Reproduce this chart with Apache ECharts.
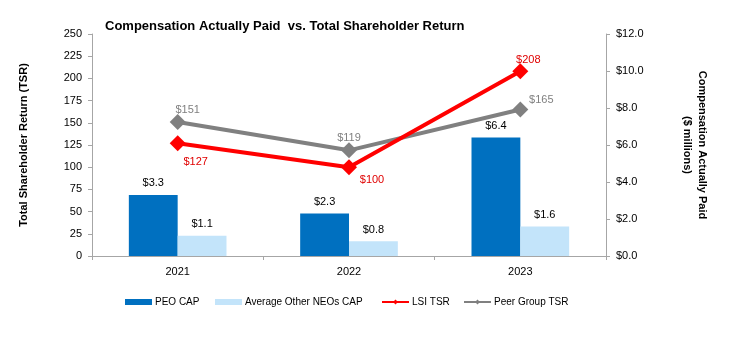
<!DOCTYPE html>
<html><head><meta charset="utf-8">
<script src="https://cdn.jsdelivr.net/npm/echarts@6/dist/echarts.min.js"></script>
<style>html,body{margin:0;padding:0;background:#fff}#c{width:747px;height:364px}</style>
</head><body><div id="c"></div>
<script>
const categories = ['2021', '2022', '2023'];
const peoCap = [3.3, 2.3, 6.4];
const otherNeoCap = [1.1, 0.8, 1.6];
const lsiTsr = [127, 100, 208];
const peerTsr = [151, 119, 165];
const leftTicks = { min: 0, max: 250, interval: 25 };
const rightTicks = { min: 0, max: 12, interval: 2 };
const legendNames = ['PEO CAP', 'Average Other NEOs CAP', 'LSI TSR', 'Peer Group TSR'];

// label offsets and legend positions (style only)
const lsiOffsets = [[18, 37], [23, 31], [8, 7]];
const peerOffsets = [[10, 7], [0, 6], [21, 9]];
const legendLefts = [120, 210, 376, 458];

const FONT = 'Liberation Sans';
const chart = echarts.init(document.getElementById('c'));

function withLabels(vals, offs, color) {
  return vals.map((v, i) => ({
    value: v,
    label: { show: true, position: 'top', offset: offs[i], color: color, fontSize: 11, fontFamily: FONT,
      formatter: p => '$' + p.value }
  }));
}

chart.setOption({
  animation: false,
  textStyle: { fontFamily: FONT },
  title: {
    text: 'Compensation Actually Paid  vs. Total Shareholder Return',
    left: 100, top: 15,
    textStyle: { fontSize: 13, fontWeight: 'bold', color: '#000', fontFamily: FONT }
  },
  grid: { left: 92, right: 141, top: 34, bottom: 108 },
  legend: legendNames.map((n, i) => ({
    left: legendLefts[i], top: 292, itemWidth: 27, itemHeight: 6,
    textStyle: { fontSize: 10, color: '#000', fontFamily: FONT, padding: [0, 0, 0, -2] },
    data: [i < 2 ? { name: n, icon: 'rect' } : { name: n }]
  })),
  xAxis: {
    type: 'category', data: categories, boundaryGap: true,
    axisLine: { lineStyle: { color: '#A6A6A6' } },
    axisTick: { show: true, alignWithLabel: false, length: 4, lineStyle: { color: '#A6A6A6' } },
    axisLabel: { color: '#000', fontSize: 11, margin: 10, fontFamily: FONT }
  },
  yAxis: [
    {
      type: 'value', position: 'left', min: leftTicks.min, max: leftTicks.max, interval: leftTicks.interval,
      axisLine: { show: true, lineStyle: { color: '#A6A6A6' } },
      axisTick: { show: true, length: 4, lineStyle: { color: '#A6A6A6' } },
      splitLine: { show: false },
      axisLabel: { color: '#000', fontSize: 11, margin: 10, fontFamily: FONT }
    },
    {
      type: 'value', position: 'right', min: rightTicks.min, max: rightTicks.max, interval: rightTicks.interval,
      axisLine: { show: true, lineStyle: { color: '#A6A6A6' } },
      axisTick: { show: true, length: 4, lineStyle: { color: '#A6A6A6' } },
      splitLine: { show: false },
      axisLabel: { color: '#000', fontSize: 11, margin: 10, fontFamily: FONT, formatter: v => '$' + v.toFixed(1) }
    }
  ],
  graphic: [
    { type: 'text', x: 24, y: 145, rotation: Math.PI / 2,
      style: { text: 'Total Shareholder Return (TSR)', font: 'bold 11px "Liberation Sans"', fill: '#000', align: 'center', verticalAlign: 'middle' } },
    { type: 'text', x: 695, y: 145, rotation: -Math.PI / 2,
      style: { text: 'Compensation Actually Paid\n($ millions)', font: 'bold 11px "Liberation Sans"', fill: '#000', align: 'center', verticalAlign: 'middle', lineHeight: 15 } }
  ],
  series: [
    { name: 'PEO CAP', type: 'bar', yAxisIndex: 1, data: peoCap, barGap: '0%', barCategoryGap: '43%',
      itemStyle: { color: '#0070C0' },
      label: { show: true, position: 'top', distance: 6, color: '#000', fontSize: 11, fontFamily: FONT, formatter: p => '$' + p.value.toFixed(1) } },
    { name: 'Average Other NEOs CAP', type: 'bar', yAxisIndex: 1, data: otherNeoCap, barGap: '0%', barCategoryGap: '43%',
      itemStyle: { color: '#C3E4FA' },
      label: { show: true, position: 'top', distance: 6, color: '#000', fontSize: 11, fontFamily: FONT, formatter: p => '$' + p.value.toFixed(1) } },
    { name: 'LSI TSR', type: 'line', yAxisIndex: 0, z: 5, data: withLabels(lsiTsr, lsiOffsets, '#E00000'),
      symbol: 'diamond', symbolSize: 16, lineStyle: { color: '#FF0000', width: 4 }, itemStyle: { color: '#FF0000' } },
    { name: 'Peer Group TSR', type: 'line', yAxisIndex: 0, z: 4, data: withLabels(peerTsr, peerOffsets, '#808080'),
      symbol: 'diamond', symbolSize: 16, lineStyle: { color: '#808080', width: 4 }, itemStyle: { color: '#808080' } }
  ]
});
</script></body></html>
